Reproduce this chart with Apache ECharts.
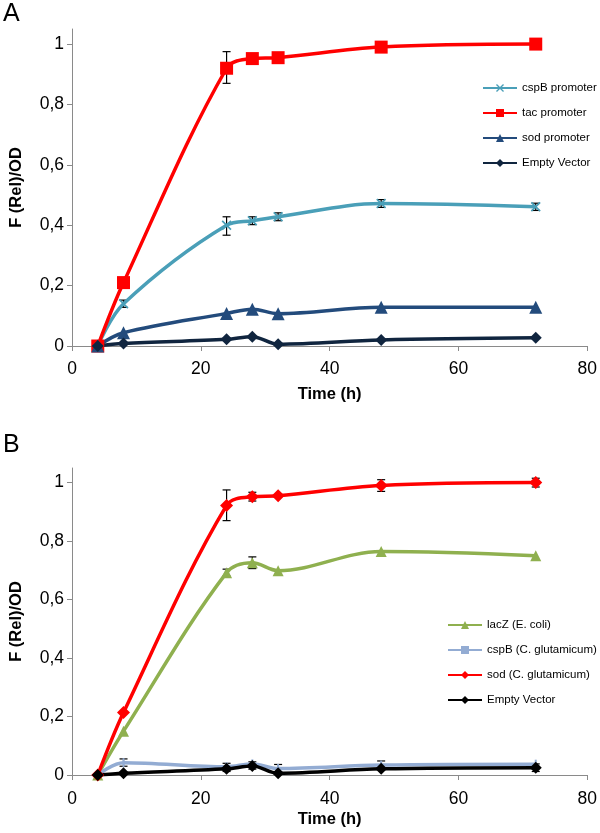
<!DOCTYPE html>
<html><head><meta charset="utf-8">
<script src="https://cdn.jsdelivr.net/npm/echarts@6/dist/echarts.min.js"></script>
<style>html,body{margin:0;padding:0;background:#fff}#c{width:600px;height:833px}</style>
</head><body><div id="c"></div><script>
// ---- data ----
const hours = [4, 8, 24, 28, 32, 48, 72];
const xTicks = [0, 20, 40, 60, 80];
const yTicks = [0, 0.2, 0.4, 0.6, 0.8, 1];
// Panel A
const aCspB = [0, 0.14, 0.40, 0.415, 0.428, 0.472, 0.461];
const aTac = [0, 0.21, 0.92, 0.952, 0.955, 0.99, 1.0];
const aSod = [0, 0.044, 0.108, 0.122, 0.107, 0.128, 0.128];
const aEmpty = [0, 0.008, 0.022, 0.031, 0.006, 0.02, 0.027];
const aErrors = [[24, 0.87, 0.975], [24, 0.367, 0.428], [8, 0.128, 0.152], [28, 0.402, 0.428], [32, 0.415, 0.441], [48, 0.459, 0.485], [72, 0.449, 0.473]];
// Panel B
const bLacZ = [0, 0.15, 0.692, 0.726, 0.699, 0.764, 0.75];
const bCspB = [0, 0.042, 0.028, 0.038, 0.022, 0.034, 0.037];
const bSod = [0, 0.214, 0.922, 0.952, 0.955, 0.99, 1.0];
const bEmpty = [0, 0.006, 0.021, 0.031, 0.006, 0.021, 0.025];
const bErrors = [[24, 0.87, 0.975], [28, 0.937, 0.967], [48, 0.97, 1.01], [72, 0.985, 1.015], [28, 0.706, 0.746], [24, 0.68, 0.704], [8, 0.03, 0.055], [24, 0.012, 0.04], [32, 0.008, 0.036], [48, 0.02, 0.048], [72, 0.012, 0.038], [28, 0.02, 0.045]];
const namesA = ['cspB promoter', 'tac promoter', 'sod promoter', 'Empty Vector'];
const namesB = ['lacZ (E. coli)', 'cspB (C. glutamicum)', 'sod (C. glutamicum)', 'Empty Vector (B)'];

const FONT = 'Liberation Sans, Arial, sans-serif';
const xMark = 'path://M0,1.2 L1.2,0 L5,3.8 L8.8,0 L10,1.2 L6.2,5 L10,8.8 L8.8,10 L5,6.2 L1.2,10 L0,8.8 L3.8,5 Z';

function pairs(vals) { return hours.map((h, i) => [h, vals[i]]); }
function lineS(name, vals, color, symbol, size, gi) {
  return {
    type: 'line', name, data: pairs(vals), xAxisIndex: gi, yAxisIndex: gi,
    smooth: 0.35, symbol, symbolSize: size, showAllSymbol: true,
    lineStyle: { color, width: 3.5 }, itemStyle: { color, opacity: 1 },
    emphasis: { disabled: true }, z: 3
  };
}
function errS(data, gi) {
  return {
    type: 'custom', coordinateSystem: 'cartesian2d', xAxisIndex: gi, yAxisIndex: gi,
    data, silent: true, z: 2, encode: { x: 0, y: [1, 2] },
    renderItem(params, api) {
      const x = api.value(0);
      const lo = api.coord([x, api.value(1)]);
      const hi = api.coord([x, api.value(2)]);
      const w = 4, st = { stroke: '#000', lineWidth: 1.2 };
      return { type: 'group', children: [
        { type: 'line', shape: { x1: lo[0], y1: lo[1], x2: hi[0], y2: hi[1] }, style: st },
        { type: 'line', shape: { x1: lo[0] - w, y1: lo[1], x2: lo[0] + w, y2: lo[1] }, style: st },
        { type: 'line', shape: { x1: hi[0] - w, y1: hi[1], x2: hi[0] + w, y2: hi[1] }, style: st }
      ] };
    }
  };
}
function xAx(gi, gap, margin) {
  return {
    type: 'value', gridIndex: gi, min: 0, max: 80, interval: 20,
    name: 'Time (h)', nameLocation: 'middle', nameGap: gap,
    nameTextStyle: { fontFamily: FONT, fontSize: 16.5, fontWeight: 'bold', color: '#000' },
    axisLine: { lineStyle: { color: '#8a8a8a', width: 1 } },
    axisTick: { length: 5, lineStyle: { color: '#8a8a8a' } },
    axisLabel: { fontFamily: FONT, fontSize: 17.5, color: '#000', margin, customValues: xTicks },
    splitLine: { show: false }
  };
}
function yAx(gi) {
  return {
    type: 'value', gridIndex: gi, min: 0, max: 1.05,
    name: 'F (Rel)/OD', nameLocation: 'middle', nameGap: 47,
    nameTextStyle: { fontFamily: FONT, fontSize: 16.5, fontWeight: 'bold', color: '#000' },
    axisLine: { show: true, lineStyle: { color: '#8a8a8a', width: 1 } },
    axisTick: { show: true, length: 5, lineStyle: { color: '#8a8a8a' }, customValues: yTicks },
    axisLabel: { fontFamily: FONT, fontSize: 17.5, color: '#000', margin: 8, customValues: yTicks,
      formatter: v => String(Math.round(v * 10) / 10).replace('.', ',') },
    splitLine: { show: false }
  };
}
const legendText = { fontFamily: FONT, fontSize: 11.5, color: '#000' };

const option = {
  animation: false,
  backgroundColor: '#fff',
  title: [
    { text: 'A', left: 3, top: 2, padding: 0, textStyle: { fontFamily: FONT, fontSize: 25, fontWeight: 'normal', color: '#000' } },
    { text: 'B', left: 3, top: 433, padding: 0, textStyle: { fontFamily: FONT, fontSize: 25, fontWeight: 'normal', color: '#000' } }
  ],
  grid: [
    { left: 69, top: 29, width: 520, height: 317 },
    { left: 69, top: 468, width: 520, height: 307 }
  ],
  xAxis: [xAx(0, 40, 14), xAx(1, 36, 15)],
  yAxis: [yAx(0), yAx(1)],
  legend: [
    { data: namesA, orient: 'vertical', left: 482, top: 82, padding: 0, itemWidth: 34, itemHeight: 10, itemGap: 13,
      textStyle: legendText, selectedMode: false },
    { data: namesB, orient: 'vertical', left: 447, top: 619, padding: 0, itemWidth: 34, itemHeight: 10, itemGap: 13,
      textStyle: legendText, selectedMode: false, formatter: n => n.replace(' (B)', '') }
  ],
  series: [
    errS(aErrors, 0),
    lineS(namesA[0], aCspB, '#4a9fb8', xMark, 10, 0),
    lineS(namesA[1], aTac, '#ff0000', 'rect', 13, 0),
    lineS(namesA[2], aSod, '#234b7c', 'triangle', 13, 0),
    lineS(namesA[3], aEmpty, '#10253f', 'diamond', 12, 0),
    errS(bErrors, 1),
    lineS(namesB[0], bLacZ, '#8fb04f', 'triangle', 11, 1),
    lineS(namesB[1], bCspB, '#93acd3', 'rect', [2, 9], 1),
    lineS(namesB[2], bSod, '#ff0000', 'diamond', 13, 1),
    lineS(namesB[3], bEmpty, '#000000', 'diamond', 12, 1)
  ]
};
echarts.init(document.getElementById('c')).setOption(option);
</script></body></html>
